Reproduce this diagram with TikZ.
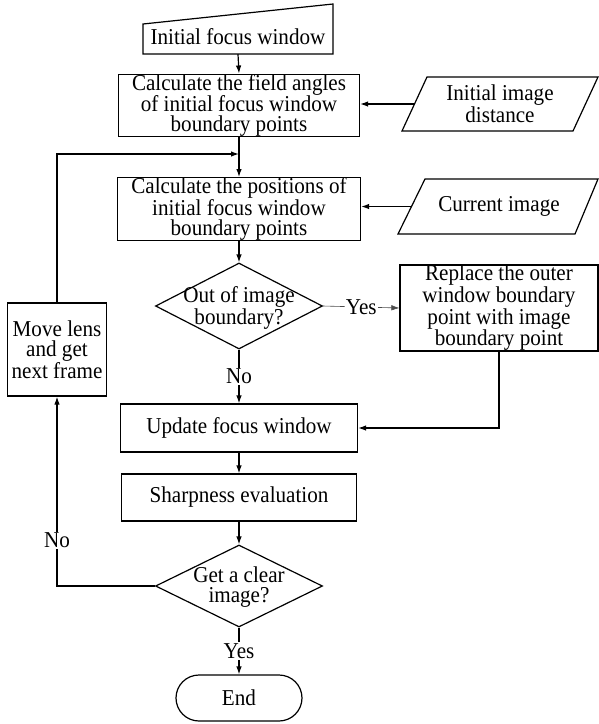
\documentclass[tikz,border=0pt]{standalone}
\usepackage{fontspec}
\setmainfont{Liberation Serif}[FakeStretch=0.93]
\usetikzlibrary{arrows.meta,shapes.geometric,shapes.misc}
\begin{document}
\begin{tikzpicture}[x=1pt,y=-1pt,
  every node/.style={font=\fontsize{22.7}{20}\selectfont, inner sep=0pt, align=center},
  box/.style={draw, line width=1.2pt},
  outline/.style={draw, line width=1.2pt, line join=miter},
  arr/.style={line width=1.2pt, -{Latex[length=8pt,width=5.5pt]}},
  thinarr/.style={line width=0.6pt, draw=black!70, -{Latex[length=8pt,width=5.5pt]}},
  plain/.style={line width=1.2pt},
  lbl/.style={fill=white, inner sep=1pt}]
\fill[white] (0,0) rectangle (599,724);
\useasboundingbox (0,0) rectangle (599,724);

% Initial focus window (manual input shape)
\node (ifw) [minimum width=190pt, minimum height=34pt] at (238,37) {Initial focus window};
\draw[outline] (143,54) -- (143,24) -- (333,4) -- (333,54) -- cycle;

% process boxes
\node[box, minimum width=241pt, minimum height=61pt] (c1) at (239,105.5)
  {Calculate the field angles\\of initial focus window\\boundary points};
\node[box, minimum width=243pt, minimum height=62pt] (c2) at (239,209)
  {Calculate the positions of\\initial focus window\\boundary points};

% inputs (parallelograms)
\node (p1) [minimum width=171pt, minimum height=54pt] at (500,104) {Initial image\\distance};
\draw[outline] (402,131) -- (427,77) -- (598,77) -- (573,131) -- cycle;
\node (p2) [minimum width=175pt, minimum height=55pt] at (499,206.5) {Current image};
\draw[outline] (398,234) -- (425,179) -- (598,179) -- (575,234) -- cycle;

% decision 1
\node[diamond, draw, line width=1.2pt, minimum width=167pt, minimum height=86pt] (d1) at (239,306) {};
\node (d1t) at (239,308) {Out of image\\boundary?};

\node[box, minimum width=198pt, minimum height=86pt] (rep) at (499,308)
  {Replace the outer\\window boundary\\point with image\\boundary point};

\node[box, minimum width=237pt, minimum height=48pt] (upd) at (239,428) {Update focus window};
\node[box, minimum width=235pt, minimum height=47pt] (shp) at (239,497.5) {Sharpness evaluation};

% decision 2
\node[diamond, draw, line width=1.2pt, minimum width=167pt, minimum height=82pt] (d2) at (239,586) {};
\node (d2t) at (239,587) {Get a clear\\image?};

\node[rounded rectangle, draw, line width=1.2pt, minimum width=126pt, minimum height=46pt] (end) at (239,698) {End};

\node[box, minimum width=99pt, minimum height=93pt] (mv) at (57,349.5)
  {Move lens\\and get\\next frame};

\coordinate (join) at (239,154);

% connectors
\draw[arr] (ifw.south) -- (c1.north);
\draw[arr] (c1.south) -- (c2.north);
\draw[arr] (p1.west) -- (p1.west -| c1.east);
\draw[arr] (p2.west) -- (p2.west -| c2.east);
\draw[arr] (c2.south) -- (d1.north);
\draw[thinarr] (d1.east) -- node[lbl, text=black] {Yes} (rep.west);
\draw[arr] (d1.south) -- node[lbl] {No} (upd.north);
\draw[arr] (rep.south) |- (upd.east);
\draw[arr] (upd.south) -- (shp.north);
\draw[arr] (shp.south) -- (d2.north);
\draw[arr] (d2.south) -- node[lbl] {Yes} (end.north);
\draw[arr] (d2.west) -| node[lbl, pos=0.62] {No} (mv.south);
\draw[arr] (mv.north) |- (join);
\end{tikzpicture}
\end{document}
